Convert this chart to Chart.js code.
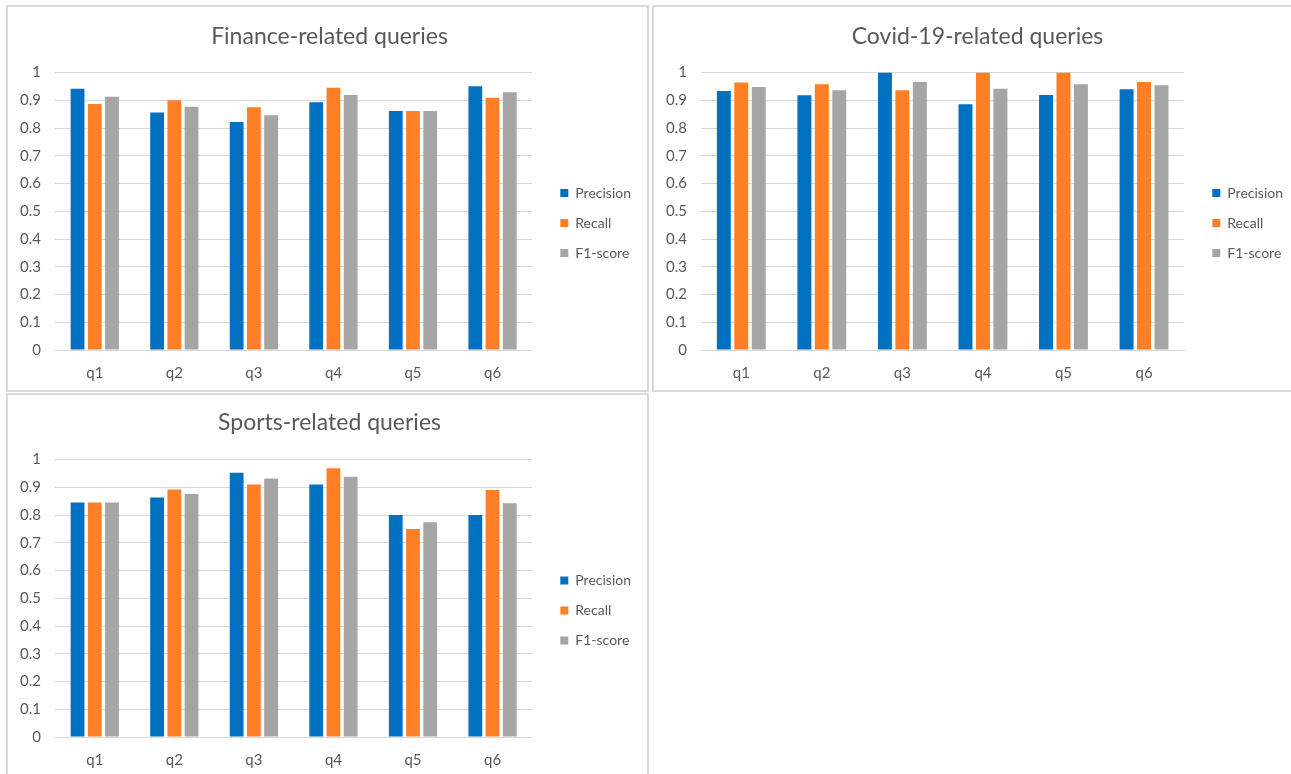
<!DOCTYPE html>
<html>
<head>
<meta charset="utf-8">
<script src="https://cdn.jsdelivr.net/npm/chart.js@4"></script>
<style>
  html, body { margin: 0; padding: 0; background: #fff; overflow: hidden; }
  body { width: 1291px; height: 774px; position: relative; }
  .panel { position: absolute; border: 2px solid #d9d9d9; box-sizing: border-box; background: #fff; }
  #p1 { left: 6px; top: 5px; width: 643px; height: 387px; }
  #p2 { left: 652px; top: 5px; width: 651px; height: 387px; }
  #p3 { left: 6px; top: 393px; width: 643px; height: 393px; }
  canvas { display: block; }
</style>
</head>
<body>
<div class="panel" id="p1"><canvas id="financeChart" width="639" height="383"></canvas></div>
<div class="panel" id="p2"><canvas id="covidChart" width="647" height="383"></canvas></div>
<div class="panel" id="p3"><canvas id="sportsChart" width="639" height="389"></canvas></div>
<script>
// Categories and series
const queries = ['q1', 'q2', 'q3', 'q4', 'q5', 'q6'];
const seriesNames = ['Precision', 'Recall', 'F1-score'];
const seriesColors = ['#0070C0', '#FF7F27', '#A5A5A5'];

// Finance-related queries
const financePrecision = [0.942, 0.856, 0.822, 0.893, 0.862, 0.951];
const financeRecall    = [0.887, 0.900, 0.875, 0.945, 0.862, 0.909];
const financeF1        = [0.913, 0.877, 0.846, 0.919, 0.862, 0.929];

// Covid-19-related queries
const covidPrecision = [0.934, 0.918, 1.000, 0.886, 0.919, 0.940];
const covidRecall    = [0.964, 0.958, 0.936, 1.000, 1.000, 0.966];
const covidF1        = [0.948, 0.936, 0.966, 0.942, 0.958, 0.954];

// Sports-related queries
const sportsPrecision = [0.845, 0.863, 0.953, 0.910, 0.800, 0.800];
const sportsRecall    = [0.845, 0.892, 0.910, 0.969, 0.750, 0.890];
const sportsF1        = [0.845, 0.876, 0.932, 0.938, 0.774, 0.843];

const FONT = 'Lato';
const TEXT = '#595959';
const GRID = '#d9d9d9';

// push the legend away from the plot and center the title on the whole panel, like Excel
const boxNudge = {
    id: 'boxNudge',
    afterLayout(chart, args, opts) {
        if (chart.legend) {
            chart.legend.left += opts.legendShift;
            chart.legend.right += opts.legendShift;
        }
        if (chart.titleBlock) {
            chart.titleBlock.left += opts.titleShift;
            chart.titleBlock.right += opts.titleShift;
        }
    }
};

const makeChart = (canvasId, title, precision, recall, f1, opts) => {
    const ctx = document.getElementById(canvasId).getContext('2d');
    const values = [precision, recall, f1];
    return new Chart(ctx, {
        type: 'bar',
        data: {
            labels: queries,
            datasets: seriesNames.map((name, i) => ({
                label: name,
                data: values[i],
                backgroundColor: seriesColors[i],
                borderWidth: 0,
                categoryPercentage: 0.65,
                barPercentage: 0.8
            }))
        },
        plugins: [boxNudge],
        options: {
            responsive: false,
            animation: false,
            layout: { padding: { top: 0, right: opts.padRight, bottom: 0, left: 0 } },
            plugins: {
                boxNudge: { legendShift: 12, titleShift: opts.titleShift },
                title: {
                    display: true,
                    text: title,
                    color: TEXT,
                    font: { family: FONT, size: 23, weight: 'normal' },
                    padding: { top: opts.titleTop, bottom: opts.titleBottom }
                },
                legend: {
                    position: 'right',
                    title: {
                        display: true,
                        text: ' ',
                        color: 'rgba(0,0,0,0)',
                        font: { family: FONT, size: 10 },
                        padding: { top: 0, bottom: opts.legendDrop }
                    },
                    labels: {
                        color: TEXT,
                        font: { family: FONT, size: 14 },
                        boxWidth: 8,
                        boxHeight: 8,
                        padding: 16
                    }
                },
                tooltip: { enabled: false }
            },
            scales: {
                x: {
                    grid: { display: false, drawTicks: false },
                    border: { color: GRID, width: 1 },
                    ticks: { color: TEXT, font: { family: FONT, size: 15 }, padding: 14 },
                    afterFit: (scale) => { scale.height = opts.xHeight; }
                },
                y: {
                    min: 0,
                    max: 1,
                    ticks: {
                        stepSize: 0.1,
                        color: TEXT,
                        font: { family: FONT, size: 15 },
                        padding: 14,
                        callback: (v) => String(Number(v.toFixed(1)))
                    },
                    grid: { color: GRID, drawTicks: false },
                    border: { display: false },
                    afterFit: (scale) => { scale.width = 47; }
                }
            }
        }
    });
};

makeChart('financeChart', 'Finance-related queries', financePrecision, financeRecall, financeF1,
    { padRight: 18, titleTop: 16, titleBottom: 22, xHeight: 40, titleShift: 11, legendDrop: 37 });
makeChart('covidChart', 'Covid-19-related queries', covidPrecision, covidRecall, covidF1,
    { padRight: 20, titleTop: 16, titleBottom: 22, xHeight: 40, titleShift: 10, legendDrop: 37 });
makeChart('sportsChart', 'Sports-related queries', sportsPrecision, sportsRecall, sportsF1,
    { padRight: 18, titleTop: 14, titleBottom: 23, xHeight: 47, titleShift: 11, legendDrop: 30 });
</script>
</body>
</html>
